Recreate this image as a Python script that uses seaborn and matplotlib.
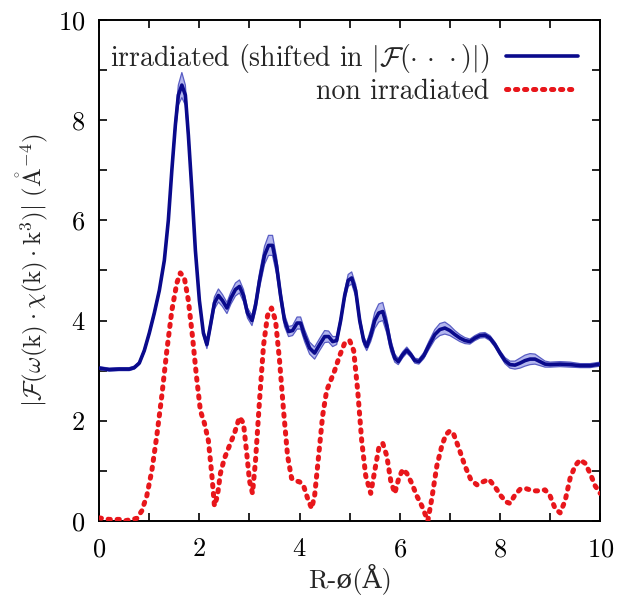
import seaborn as sns
import matplotlib.pyplot as plt
import pandas as pd
from matplotlib.ticker import MultipleLocator

# non irradiated curve
non_x = [0.0, 0.2, 0.4, 0.5, 0.6, 0.75, 0.85, 0.95, 1.05, 1.15, 1.25, 1.35, 1.45, 1.55, 1.62,
         1.7, 1.78, 1.86, 1.94, 2.02, 2.1, 2.18, 2.25, 2.3, 2.36, 2.42, 2.5, 2.6, 2.7, 2.8,
         2.88, 2.95, 3.0, 3.06, 3.12, 3.2, 3.28, 3.36, 3.44, 3.52, 3.6, 3.68, 3.76, 3.84, 3.92,
         4.0, 4.08, 4.16, 4.24, 4.3, 4.38, 4.46, 4.54, 4.62, 4.7, 4.8, 4.9, 5.0, 5.08, 5.16,
         5.24, 5.32, 5.42, 5.5, 5.58, 5.66, 5.74, 5.82, 5.9, 5.98, 6.06, 6.14, 6.24, 6.34, 6.44,
         6.56, 6.64, 6.74, 6.84, 6.92, 7.0, 7.08, 7.18, 7.3, 7.42, 7.54, 7.66, 7.78, 7.9, 8.02,
         8.12, 8.2, 8.3, 8.4, 8.5, 8.6, 8.7, 8.8, 8.9, 9.0, 9.1, 9.2, 9.3, 9.4, 9.5,
         9.6, 9.7, 9.8, 9.9, 10.0]
non_y = [0.06, 0.03, 0.03, 0.0, 0.02, 0.05, 0.2, 0.5, 1.0, 1.7, 2.5, 3.4, 4.2, 4.75, 4.95,
         4.85, 4.4, 3.7, 2.9, 2.2, 1.95, 1.6, 0.9, 0.3, 0.5, 0.95, 1.25, 1.5, 1.75, 2.07,
         1.95, 1.3, 0.8, 0.55, 1.2, 2.4, 3.5, 4.1, 4.25, 4.0, 3.2, 2.2, 1.3, 0.85, 0.8,
         0.78, 0.7, 0.45, 0.25, 0.5, 1.3, 2.1, 2.6, 2.8, 3.0, 3.3, 3.55, 3.6, 3.4, 2.6,
         1.6, 0.9, 0.55, 1.0, 1.45, 1.55, 1.3, 0.8, 0.55, 0.85, 1.03, 0.95, 0.75, 0.5, 0.3,
         0.0, 0.45, 1.1, 1.5, 1.72, 1.8, 1.72, 1.45, 1.1, 0.82, 0.72, 0.78, 0.83, 0.68, 0.5,
         0.38, 0.35, 0.52, 0.63, 0.65, 0.62, 0.6, 0.6, 0.62, 0.5, 0.25, 0.16, 0.4, 0.85, 1.1,
         1.22, 1.15, 0.95, 0.7, 0.55]

# irradiated curve (already shifted) and half width of its band
irr_x = [0.0, 0.2, 0.4, 0.6, 0.7, 0.8, 0.9, 1.0, 1.1, 1.2, 1.3, 1.38, 1.45, 1.52, 1.58,
         1.65, 1.72, 1.78, 1.85, 1.92, 2.0, 2.08, 2.15, 2.22, 2.3, 2.38, 2.46, 2.55, 2.63, 2.72,
         2.8, 2.88, 2.96, 3.05, 3.12, 3.2, 3.3, 3.38, 3.46, 3.54, 3.62, 3.7, 3.78, 3.86, 3.95,
         4.02, 4.1, 4.2, 4.3, 4.4, 4.5, 4.58, 4.66, 4.74, 4.82, 4.9, 4.97, 5.04, 5.12, 5.2,
         5.28, 5.34, 5.42, 5.5, 5.58, 5.66, 5.74, 5.82, 5.9, 5.97, 6.06, 6.14, 6.22, 6.3, 6.38,
         6.48, 6.58, 6.7, 6.8, 6.9, 7.0, 7.1, 7.2, 7.3, 7.4, 7.5, 7.6, 7.7, 7.8, 7.9,
         8.0, 8.1, 8.2, 8.3, 8.4, 8.5, 8.6, 8.7, 8.8, 8.9, 9.0, 9.2, 9.4, 9.6, 9.8, 10.0]
irr_y = [3.05, 3.02, 3.03, 3.03, 3.06, 3.15, 3.4, 3.75, 4.15, 4.6, 5.2, 6.0, 7.0, 7.9, 8.5,
         8.7, 8.5, 7.7, 6.6, 5.4, 4.4, 3.75, 3.52, 3.9, 4.35, 4.5, 4.4, 4.25, 4.45, 4.62,
         4.68, 4.5, 4.15, 4.0, 4.3, 4.8, 5.3, 5.5, 5.5, 5.1, 4.5, 4.0, 3.78, 3.8, 3.95,
         3.95, 3.7, 3.45, 3.35, 3.52, 3.68, 3.68, 3.58, 3.6, 4.0, 4.5, 4.8, 4.85, 4.6, 4.0,
         3.6, 3.48, 3.7, 4.0, 4.15, 4.18, 3.9, 3.5, 3.25, 3.18, 3.32, 3.41, 3.32, 3.2, 3.18,
         3.3, 3.5, 3.72, 3.82, 3.85, 3.8, 3.72, 3.65, 3.6, 3.58, 3.65, 3.7, 3.71, 3.65, 3.52,
         3.35, 3.2, 3.12, 3.11, 3.15, 3.2, 3.23, 3.23, 3.18, 3.13, 3.12, 3.13, 3.12, 3.1, 3.1, 3.13]
irr_err = [0.03, 0.03, 0.03, 0.03, 0.03, 0.03, 0.04, 0.04, 0.05, 0.05, 0.06, 0.08, 0.1, 0.14, 0.2,
           0.25, 0.2, 0.14, 0.1, 0.08, 0.06, 0.06, 0.08, 0.1, 0.12, 0.13, 0.12, 0.11, 0.12, 0.13,
           0.13, 0.12, 0.1, 0.1, 0.12, 0.15, 0.18, 0.2, 0.2, 0.17, 0.14, 0.12, 0.1, 0.1, 0.12,
           0.12, 0.12, 0.12, 0.12, 0.12, 0.12, 0.11, 0.1, 0.08, 0.08, 0.1, 0.12, 0.12, 0.12, 0.1,
           0.08, 0.08, 0.12, 0.16, 0.18, 0.18, 0.15, 0.12, 0.08, 0.06, 0.06, 0.06, 0.05, 0.05, 0.05,
           0.06, 0.08, 0.1, 0.12, 0.12, 0.1, 0.08, 0.07, 0.06, 0.05, 0.05, 0.05, 0.05, 0.05, 0.05,
           0.05, 0.06, 0.07, 0.08, 0.1, 0.11, 0.11, 0.1, 0.08, 0.06, 0.05, 0.05, 0.05, 0.04, 0.04, 0.04]

irr = pd.DataFrame({"R": irr_x, "F": irr_y, "err": irr_err})
non = pd.DataFrame({"R": non_x, "F": non_y})

sns.set_style("ticks")
plt.rcParams["font.family"] = ["cmr10", "DejaVu Serif"]
plt.rcParams["mathtext.fontset"] = "cm"
plt.rcParams["axes.formatter.use_mathtext"] = True

fig = plt.figure(figsize=(6.2, 6.05), dpi=100)
ax = fig.add_axes([0.16, 0.139, 0.808, 0.828])

navy = "#0a0a8c"
ax.fill_between(irr["R"], irr["F"] - irr["err"], irr["F"] + irr["err"],
                facecolor="#b3b6ee", edgecolor="none", zorder=1)
ax.plot(irr["R"], irr["F"] - irr["err"], color="#5a5ec4", lw=0.9, zorder=2)
ax.plot(irr["R"], irr["F"] + irr["err"], color="#5a5ec4", lw=0.9, zorder=2)
sns.lineplot(data=irr, x="R", y="F", ax=ax, color=navy, lw=2.6, sort=False,
             label=r"irradiated (shifted in $|\mathcal{F}(\cdot\,\cdot\,\cdot)|$)", zorder=3)
sns.lineplot(data=non, x="R", y="F", ax=ax, color="#e8161b", lw=3.6, sort=False,
             label="non irradiated", zorder=4, dashes=False)
red_line = ax.lines[-1]
red_line.set_linestyle((0, (0.45, 1.35)))
red_line.set_dash_capstyle("round")

ax.set_xlim(0, 10)
ax.set_ylim(0, 10)
ax.xaxis.set_major_locator(MultipleLocator(2))
ax.xaxis.set_minor_locator(MultipleLocator(1))
ax.yaxis.set_major_locator(MultipleLocator(2))
ax.yaxis.set_minor_locator(MultipleLocator(1))
ax.tick_params(which="both", direction="in", top=True, right=True, length=6,
               width=1.2, labelsize=19, colors="black")
ax.tick_params(axis="x", pad=12)
ax.tick_params(axis="y", pad=10)
for s in ax.spines.values():
    s.set_linewidth(1.4)
    s.set_color("black")

ax.set_xlabel("R-ø(Å)", fontsize=19, labelpad=2)
ax.set_ylabel(r"$|\mathcal{F}(\omega(\mathrm{k})\cdot\chi(\mathrm{k})\cdot\mathrm{k}^3)|\ (\mathring{\mathrm{A}}^{-4})$",
              fontsize=18, labelpad=6)

leg = ax.legend(loc="upper right", frameon=False, markerfirst=False, fontsize=20,
                handlelength=2.6, borderaxespad=0.6, labelspacing=0.12, handletextpad=0.6,
                borderpad=0.2)
leg.get_lines()[1].set_linestyle((0, (0.45, 1.35)))
leg.get_lines()[1].set_dash_capstyle("round")

fig.savefig("out.png", dpi=100)
plt.close(fig)
